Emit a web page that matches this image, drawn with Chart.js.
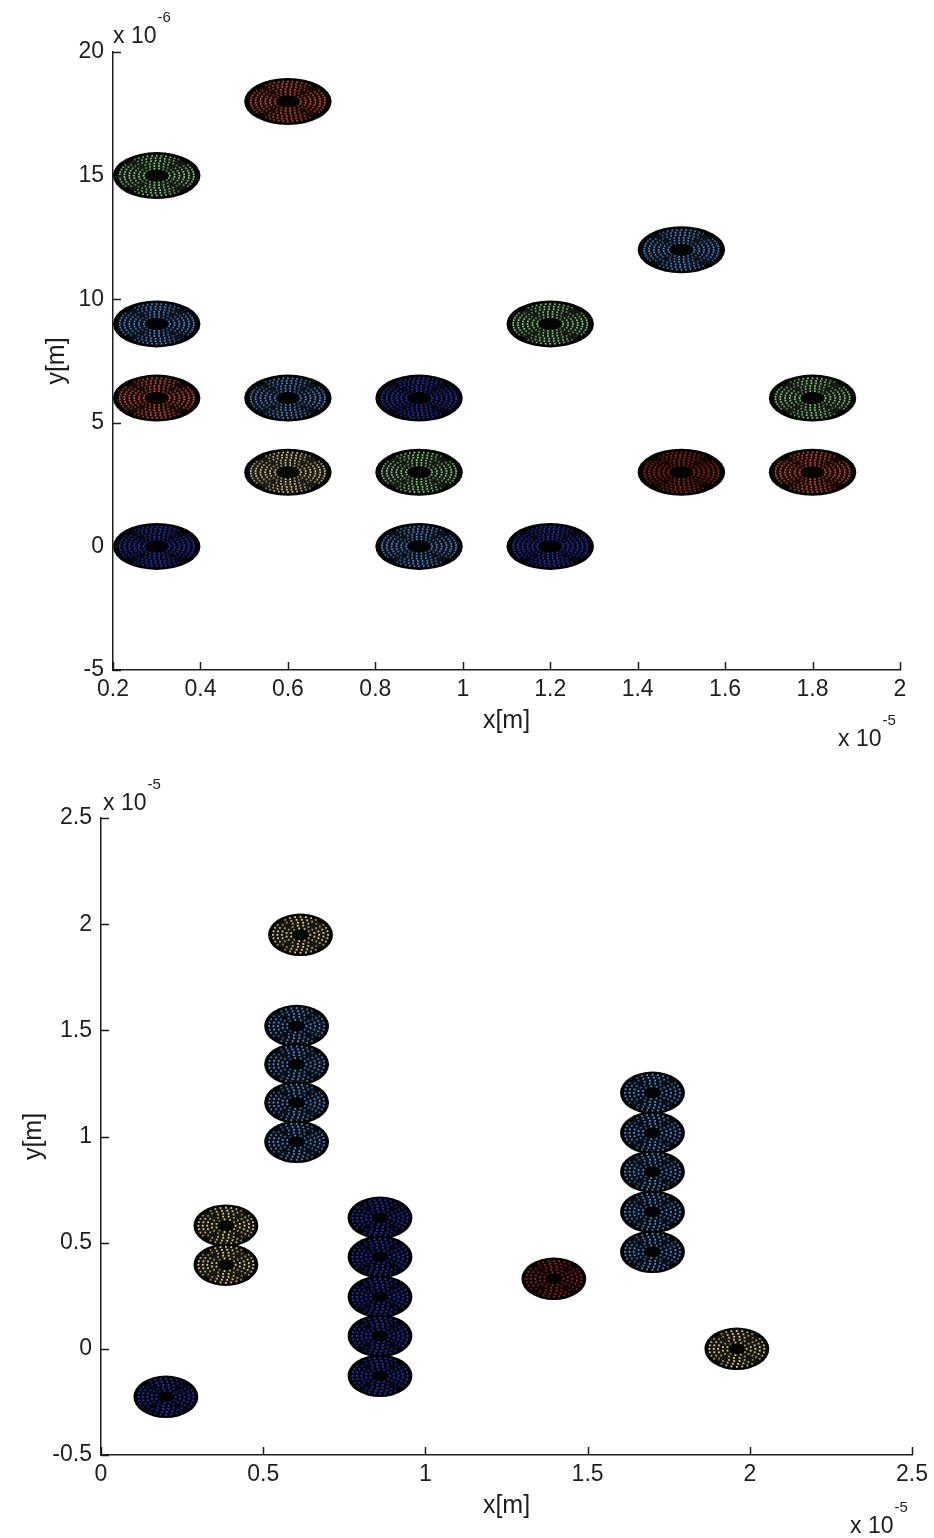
<!DOCTYPE html>
<html>
<head>
<meta charset="utf-8">
<title>Disc positions</title>
<script src="https://cdn.jsdelivr.net/npm/chart.js@4.4.1/dist/chart.umd.min.js"></script>
<style>
  html, body { margin: 0; padding: 0; background: #fff; }
  body { width: 934px; height: 1538px; position: relative; overflow: hidden; }
  canvas { position: absolute; left: 0; }
  #upper { top: 0; }
  #lower { top: 760px; }
</style>
</head>
<body>
<canvas id="upper" width="934" height="760"></canvas>
<canvas id="lower" width="934" height="778"></canvas>
<script>
// upper plot: x in 1e-5 m, y in 1e-6 m
const upperXTicks = [0.2, 2, 0.2];   // min, max, step
const upperYTicks = [-5, 20, 5];
const upperRedX = [0.6, 0.3, 1.8];
const upperRedY = [18, 6, 3];
const upperGreenX = [0.3, 1.2, 1.8, 0.9];
const upperGreenY = [15, 9, 6, 3];
const upperLightBlueX = [1.5, 0.3, 0.6, 0.9];
const upperLightBlueY = [12, 9, 6, 0];
const upperDarkBlueX = [0.9, 0.3, 1.2];
const upperDarkBlueY = [6, 0, 0];
const upperTanX = [0.6];
const upperTanY = [3];
const upperDarkRedX = [1.5];
const upperDarkRedY = [3];

// lower plot: x and y in 1e-5 m
const lowerXTicks = [0, 2.5, 0.5];
const lowerYTicks = [-0.5, 2.5, 0.5];
const lowerTanX = [0.615, 0.385, 0.385, 1.96];
const lowerTanY = [1.95, 0.58, 0.396, 0.0];
const lowerLightBlueX = [0.603, 0.603, 0.603, 0.603, 1.70, 1.70, 1.70, 1.70, 1.70];
const lowerLightBlueY = [1.52, 1.34, 1.16, 0.975, 1.206, 1.017, 0.834, 0.645, 0.457];
const lowerDarkBlueX = [0.86, 0.86, 0.86, 0.86, 0.86, 0.2];
const lowerDarkBlueY = [0.617, 0.433, 0.245, 0.061, -0.127, -0.226];
const lowerDarkRedX = [1.396];
const lowerDarkRedY = [0.33];

const COLORS = {
  red: 'rgb(220,90,66)',
  green: 'rgb(156,220,146)',
  lightBlue: 'rgb(92,152,222)',
  darkBlue: 'rgb(46,60,190)',
  tan: 'rgb(238,220,160)',
  darkRed: 'rgb(170,48,32)'
};

const FONT = "'Liberation Sans', Arial, sans-serif";
const INK = '#1e1e1e';

function pts(xs, ys) {
  return xs.map((x, i) => ({ x: x, y: ys[i] }));
}

function fmt(v) {
  return String(+v.toFixed(2));
}

// black disc with a speckled mode pattern in the series colour
function drawDisc(ctx, cx, cy, rx, ry, color, o) {
  ctx.save();
  ctx.fillStyle = '#000';
  ctx.beginPath();
  ctx.ellipse(cx, cy, rx, ry, 0, 0, Math.PI * 2);
  ctx.fill();
  // faint tint over the inner part of the disc
  ctx.fillStyle = color;
  ctx.globalAlpha = o.tint;
  ctx.beginPath();
  ctx.ellipse(cx, cy, rx * 0.85, ry * 0.85, 0, 0, Math.PI * 2);
  ctx.fill();
  ctx.globalAlpha = 0.8;
  ctx.fillStyle = '#000';
  ctx.beginPath();
  ctx.ellipse(cx, cy, rx * 0.26, ry * 0.26, 0, 0, Math.PI * 2);
  ctx.fill();
  ctx.fillStyle = color;
  const rings = Math.max(3, Math.round(ry * 0.58 / o.ringStep) + 1);
  for (let j = 0; j < rings; j++) {
    const r = 0.3 + 0.55 * j / (rings - 1);
    const perim = Math.PI * (rx + ry) * r;
    const n = Math.max(6, Math.round(perim / o.step));
    for (let k = 0; k < n; k++) {
      const t = (k + 0.5 * (j % 2)) / n * Math.PI * 2;
      const c2 = Math.abs(Math.cos(2 * t));
      if (c2 < 0.25 && j % 3 !== 0) continue;
      ctx.globalAlpha = o.alpha * (0.45 + 0.55 * c2);
      ctx.fillRect(cx + rx * r * Math.cos(t) - o.dot / 2, cy + ry * r * Math.sin(t) - o.dot / 2, o.dot, o.dot);
    }
  }
  ctx.restore();
}

const discPlugin = {
  id: 'discs',
  afterDatasetsDraw(chart, args, opts) {
    const ctx = chart.ctx;
    const xs = chart.scales.x, ys = chart.scales.y;
    chart.data.datasets.forEach((ds, di) => {
      const meta = chart.getDatasetMeta(di);
      meta.data.forEach((pt, i) => {
        const v = ds.data[i];
        const rx = Math.abs(xs.getPixelForValue(v.x + opts.rx) - pt.x);
        const ry = Math.abs(ys.getPixelForValue(v.y + opts.ry) - pt.y);
        drawDisc(ctx, pt.x, pt.y, rx, ry, ds.backgroundColor, opts);
      });
    });
  }
};

// inward tick marks along the two visible axes
const inTicks = {
  id: 'inTicks',
  afterDraw(chart, args, opts) {
    const { ctx, chartArea: a } = chart;
    const xs = chart.scales.x, ys = chart.scales.y;
    ctx.save();
    ctx.strokeStyle = INK;
    ctx.lineWidth = 1.5;
    ctx.beginPath();
    xs.ticks.forEach(t => {
      const p = Math.round(xs.getPixelForValue(t.value)) + 0.5;
      ctx.moveTo(p, a.bottom);
      ctx.lineTo(p, a.bottom - opts.length);
    });
    ys.ticks.forEach(t => {
      const p = Math.round(ys.getPixelForValue(t.value)) + 0.5;
      ctx.moveTo(a.left, p);
      ctx.lineTo(a.left + opts.length, p);
    });
    ctx.stroke();
    ctx.restore();
  }
};

// "x 10^n" multipliers at the end of each axis
const expoPlugin = {
  id: 'expo',
  afterDraw(chart, args, opts) {
    const { ctx, chartArea: a } = chart;
    ctx.save();
    ctx.fillStyle = INK;
    ctx.textBaseline = 'alphabetic';
    ctx.textAlign = 'left';
    opts.labels.forEach(l => {
      const bx = l.corner === 'top' ? a.left + l.dx : a.right + l.dx;
      const by = l.corner === 'top' ? a.top + l.dy : a.bottom + l.dy;
      ctx.font = '23px ' + FONT;
      ctx.fillText('x 10', bx, by);
      const w = ctx.measureText('x 10').width;
      ctx.font = '15px ' + FONT;
      ctx.fillText(l.power, bx + w + 1, by - 21);
    });
    ctx.restore();
  }
};

function axis(ticks, title, size, titlePad, padding) {
  return {
    type: 'linear',
    min: ticks[0],
    max: ticks[1],
    ticks: {
      stepSize: ticks[2],
      autoSkip: false,
      maxRotation: 0,
      padding: padding,
      color: INK,
      font: { family: FONT, size: 23 },
      callback: v => fmt(v)
    },
    grid: { display: true, drawOnChartArea: false, drawTicks: false },
    border: { display: true, color: INK, width: 1.5 },
    title: {
      display: true,
      text: title,
      color: INK,
      font: { family: FONT, size: 25 },
      padding: titlePad
    },
    afterFit(scale) {
      if (scale.isHorizontal()) scale.height = size; else scale.width = size;
    }
  };
}

function makeChart(id, datasets, cfg) {
  return new Chart(document.getElementById(id).getContext('2d'), {
    type: 'scatter',
    data: { datasets: datasets },
    options: {
      responsive: false,
      devicePixelRatio: 1,
      animation: false,
      events: [],
      layout: { padding: cfg.padding },
      plugins: {
        legend: { display: false },
        tooltip: { enabled: false },
        discs: cfg.discs,
        inTicks: { length: 8 },
        expo: { labels: cfg.expo }
      },
      scales: {
        x: axis(cfg.xTicks, 'x[m]', 66, { top: 0, bottom: 0 }, 6),
        y: axis(cfg.yTicks, 'y[m]', cfg.yWidth, { top: 2, bottom: 0 }, 9)
      }
    },
    plugins: [discPlugin, inTicks, expoPlugin]
  });
}

function series(label, xs, ys, color) {
  return { label: label, data: pts(xs, ys), backgroundColor: color, pointRadius: 0, showLine: false };
}

makeChart('upper', [
  series('red', upperRedX, upperRedY, COLORS.red),
  series('green', upperGreenX, upperGreenY, COLORS.green),
  series('light blue', upperLightBlueX, upperLightBlueY, COLORS.lightBlue),
  series('dark blue', upperDarkBlueX, upperDarkBlueY, COLORS.darkBlue),
  series('tan', upperTanX, upperTanY, COLORS.tan),
  series('dark red', upperDarkRedX, upperDarkRedY, COLORS.darkRed)
], {
  padding: { left: 40, right: 34, top: 52, bottom: 24 },
  yWidth: 73,
  xTicks: upperXTicks,
  yTicks: upperYTicks,
  discs: { rx: 0.1, ry: 0.95, step: 3.6, ringStep: 2.5, dot: 1.7, tint: 0.12, alpha: 0.9 },
  expo: [
    { corner: 'top', dx: 0, dy: -9, power: '-6' },
    { corner: 'bottom', dx: -62, dy: 76, power: '-5' }
  ]
});

makeChart('lower', [
  series('tan', lowerTanX, lowerTanY, COLORS.tan),
  series('light blue', lowerLightBlueX, lowerLightBlueY, COLORS.lightBlue),
  series('dark blue', lowerDarkBlueX, lowerDarkBlueY, COLORS.darkBlue),
  series('dark red', lowerDarkRedX, lowerDarkRedY, COLORS.darkRed)
], {
  padding: { left: 17, right: 20, top: 58, bottom: 17 },
  yWidth: 84,
  xTicks: lowerXTicks,
  yTicks: lowerYTicks,
  discs: { rx: 0.1, ry: 0.1, step: 4.5, ringStep: 3.3, dot: 1.8, tint: 0.1, alpha: 0.95 },
  expo: [
    { corner: 'top', dx: 2, dy: -8, power: '-5' },
    { corner: 'bottom', dx: -62, dy: 78, power: '-5' }
  ]
});
</script>
</body>
</html>
